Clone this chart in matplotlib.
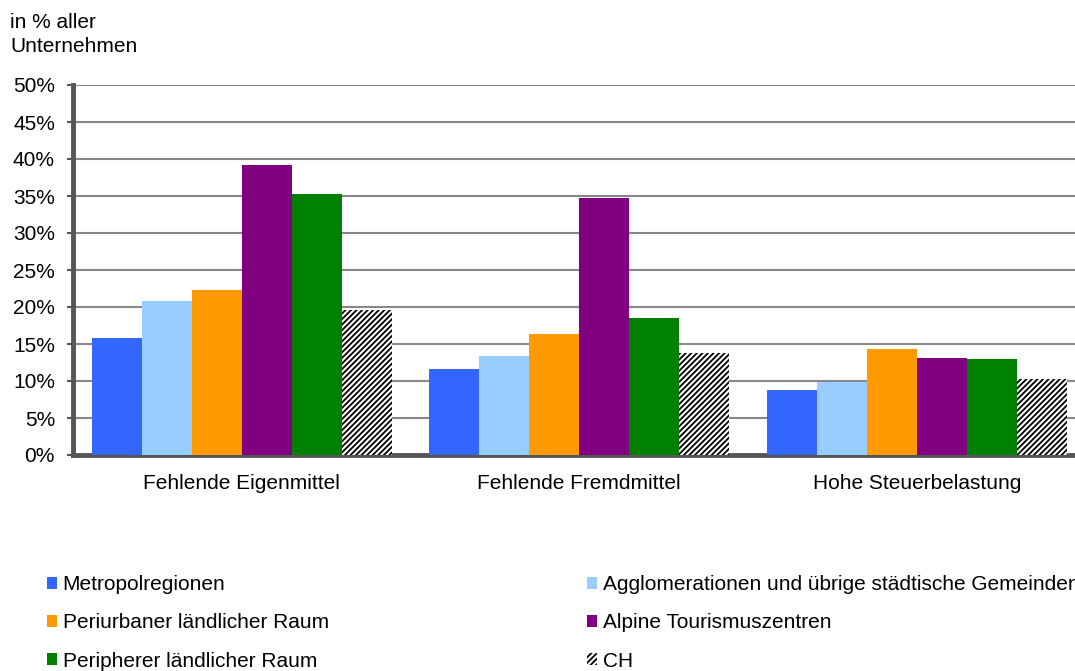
import numpy as np
import matplotlib
matplotlib.use("Agg")
import matplotlib.pyplot as plt

plt.rcParams['font.family'] = ['Liberation Sans', 'DejaVu Sans']
plt.rcParams['hatch.linewidth'] = 1.3

# Daten
kategorien = ["Fehlende Eigenmittel", "Fehlende Fremdmittel", "Hohe Steuerbelastung"]
serien = ["Metropolregionen",
          "Agglomerationen und übrige städtische Gemeinden",
          "Periurbaner ländlicher Raum",
          "Alpine Tourismuszentren",
          "Peripherer ländlicher Raum",
          "CH"]
metropol = [15.8, 11.6, 8.8]
agglo = [20.8, 13.4, 9.9]
periurban = [22.3, 16.4, 14.3]
alpin = [39.2, 34.7, 13.1]
peripher = [35.3, 18.5, 13.0]
ch = [19.6, 13.8, 10.3]
farben = ["#3366FF", "#99CCFF", "#FF9900", "#800080", "#008000", "white"]
y_ticks = [0, 5, 10, 15, 20, 25, 30, 35, 40, 45, 50]

werte = [metropol, agglo, periurban, alpin, peripher, ch]

fig = plt.figure(figsize=(10.75, 6.71), dpi=100)
ax = fig.add_axes([73/1075, 1 - 455/671, 1012.5/1075, 370/671])

x = np.arange(len(kategorien))
breite = 0.148
balken = []
for i, (name, v, c) in enumerate(zip(serien, werte, farben)):
    pos = x + (i - 2.5) * breite
    if name == "CH":
        b = ax.bar(pos, v, breite, color=c, edgecolor="black", linewidth=0,
                   hatch="//////", label=name, zorder=3)
    else:
        b = ax.bar(pos, v, breite, color=c, linewidth=0, label=name, zorder=3)
    balken.append(b)

ax.set_xlim(-0.5, 2.5)
ax.set_ylim(0, 50)
ax.set_yticks(y_ticks)
ax.set_yticklabels([f"{t}%" for t in y_ticks])
ax.set_xticks(x)
ax.set_xticklabels(kategorien)
ax.tick_params(axis="y", labelsize=15, length=4, width=1.5, color="#555555", pad=9)
ax.tick_params(axis="x", labelsize=15, length=0, pad=14)
ax.yaxis.grid(True, color="#888888", linewidth=1.5, zorder=0)
ax.set_axisbelow(True)
for s in ["top", "right"]:
    ax.spines[s].set_visible(False)
for s in ["left", "bottom"]:
    ax.spines[s].set_color("#555555")
    ax.spines[s].set_linewidth(3.5)

fig.text(10/1075, 1 - 13/671, "in % aller\nUnternehmen", fontsize=15,
         va="top", ha="left", linespacing=1.3)

leg_kw = dict(frameon=False, fontsize=15, handlelength=0.5, handleheight=0.5,
              handletextpad=0.25, labelspacing=0.93, borderpad=0,
              borderaxespad=0, loc="upper left")
leg1 = fig.legend([balken[0], balken[2], balken[4]],
                  [serien[0], serien[2], serien[4]],
                  bbox_to_anchor=(47/1075, 1 - 575/671), **leg_kw)
leg2 = fig.legend([balken[1], balken[3], balken[5]],
                  [serien[1], serien[3], serien[5]],
                  bbox_to_anchor=(587/1075, 1 - 575/671), **leg_kw)

fig.savefig("out.png", dpi=100)
